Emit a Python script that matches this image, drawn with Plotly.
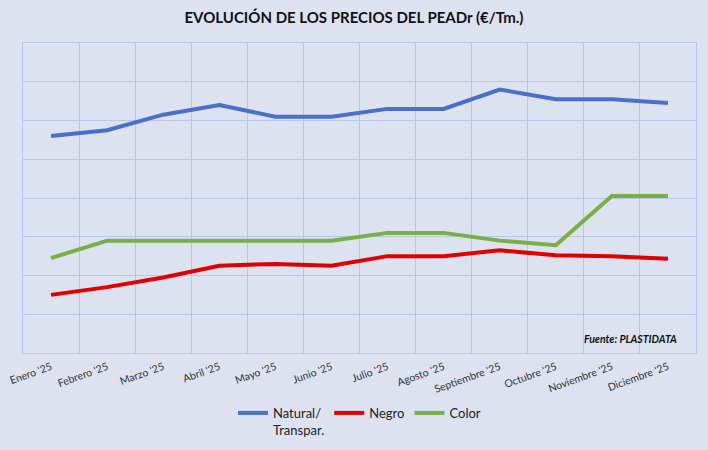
import plotly.graph_objects as go

meses = ["Enero '25", "Febrero '25", "Marzo '25", "Abril '25", "Mayo '25", "Junio '25",
         "Julio '25", "Agosto '25", "Septiembre '25", "Octubre '25", "Noviembre '25", "Diciembre '25"]

natural = [1160, 1175, 1215, 1240, 1210, 1210, 1230, 1230, 1280, 1255, 1255, 1245]
negro = [750, 770, 795, 825, 830, 825, 850, 850, 865, 852, 850, 843]
color = [845, 890, 890, 890, 890, 890, 910, 910, 890, 878, 1005, 1005]

fondo = '#DDE2F1'
rejilla = '#B7C6EA'

fig = go.Figure()

fig.add_trace(go.Scatter(x=meses, y=natural, name="Natural/<br>Transpar.", mode='lines',
                         line=dict(color='#4A6FC8', width=4)))
fig.add_trace(go.Scatter(x=meses, y=negro, name="Negro", mode='lines',
                         line=dict(color='#E00000', width=4)))
fig.add_trace(go.Scatter(x=meses, y=color, name="Color", mode='lines',
                         line=dict(color='#7AAE47', width=4)))

fig.update_layout(
    width=708, height=450,
    paper_bgcolor=fondo, plot_bgcolor=fondo,
    margin=dict(l=23, r=12, t=43, b=97, autoexpand=False),
    font=dict(family='Lato, sans-serif', color='#222222'),
    title=dict(text='<b>EVOLUCIÓN DE LOS PRECIOS DEL PEADr (€/Tm.)</b>',
               x=0.5, xanchor='center', y=0.96, yanchor='middle',
               font=dict(size=15, color='#111111')),
    showlegend=True,
    legend=dict(orientation='h', x=0.5, xanchor='center', y=-0.145, yanchor='top',
                font=dict(size=13, color='#222222'), bgcolor='rgba(0,0,0,0)',
                valign='top'),
)

fig.update_xaxes(
    type='category', range=[-0.5, 11.5], tickson='boundaries', automargin=False,
    showgrid=True, gridcolor=rejilla, gridwidth=1,
    showline=True, linecolor=rejilla, mirror=True,
    ticks='', tickangle=-20, ticklabelstandoff=3,
    tickfont=dict(size=10.5, color='#333333'),
)
fig.update_yaxes(
    range=[600, 1400], dtick=100, showticklabels=False, automargin=False,
    showgrid=True, gridcolor=rejilla, gridwidth=1,
    showline=True, linecolor=rejilla, mirror=True, zeroline=False,
)

fig.add_annotation(text='<b><i>Fuente: PLASTIDATA</i></b>', xref='paper', yref='paper',
                   x=0.975, y=0.045, xanchor='right', yanchor='middle', showarrow=False,
                   font=dict(size=10.5, color='#111111'))

# sin margen del body para que la figura ocupe la ventana desde (0,0)
fig.write_html("out.html", config={'displayModeBar': False},
               post_script="document.body.style.margin='0';")
